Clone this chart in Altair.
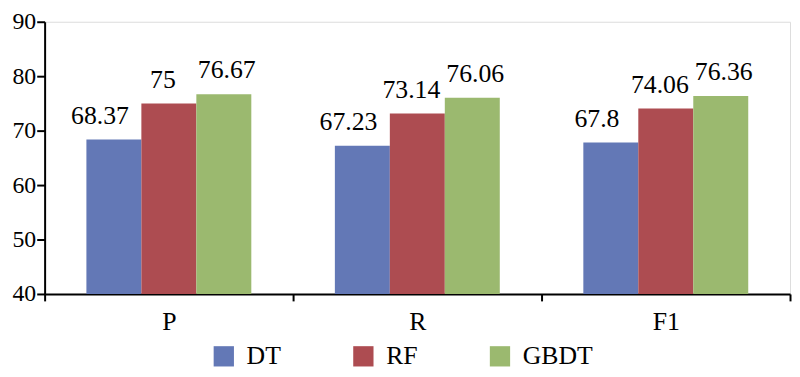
import altair as alt
import pandas as pd

categories = ["P", "R", "F1"]
models = ["DT", "RF", "GBDT"]
dt_values = [68.37, 67.23, 67.8]
rf_values = [75, 73.14, 74.06]
gbdt_values = [76.67, 76.06, 76.36]
colors = ["#6378B6", "#AD4C51", "#9BB96F"]

rows = []
for i, c in enumerate(categories):
    for m, vals in zip(models, [dt_values, rf_values, gbdt_values]):
        rows.append({"cat": c, "model": m, "value": vals[i], "label": f"{vals[i]:g}"})
df = pd.DataFrame(rows)

FONT = "'Times New Roman', 'Liberation Serif', 'DejaVu Serif', serif"
FS = 26

base = alt.Chart(df).encode(
    x=alt.X("cat:N", sort=categories, title=None,
            scale=alt.Scale(paddingInner=0, paddingOuter=0),
            axis=alt.Axis(labelAngle=0, tickBand="extent", labelFont=FONT, labelFontSize=FS,
                          labelColor="black", domainColor="black", domainWidth=2,
                          tickColor="black", tickWidth=2, tickSize=7, labelPadding=8)),
    xOffset=alt.XOffset("model:N", sort=models, scale=alt.Scale(paddingOuter=0.76, paddingInner=0)),
)

bars = base.mark_bar().encode(
    y=alt.Y("value:Q", title=None,
            scale=alt.Scale(domain=[40, 90], zero=False, nice=False, clamp=True),
            axis=alt.Axis(values=[40, 50, 60, 70, 80, 90], grid=False, labelFont=FONT,
                          labelFontSize=24, labelColor="black", domainColor="black",
                          domainWidth=2, tickColor="black", tickWidth=2, tickSize=8,
                          labelPadding=1)),
    y2=alt.datum(40),
    color=alt.Color("model:N", sort=models,
                    scale=alt.Scale(domain=models, range=colors),
                    legend=alt.Legend(title=None, orient="none", direction="horizontal",
                                      legendX=168, legendY=325, symbolType="square",
                                      symbolSize=420, symbolStrokeWidth=0,
                                      labelFont=FONT, labelFontSize=FS, labelColor="black",
                                      labelOffset=10, columnPadding=70)),
)

text_layers = []
for m, shift in zip(models, [-14, -6, 3]):
    text_layers.append(
        base.transform_filter(alt.datum.model == m)
        .mark_text(baseline="alphabetic", dy=-16, dx=shift, font=FONT, fontSize=FS, color="black")
        .encode(y=alt.Y("value:Q"), text=alt.Text("label:N"))
    )

chart = alt.layer(bars, *text_layers).properties(
    width=753, height=275, autosize="none",
    padding={"left": 37, "top": 12, "right": 2, "bottom": 82},
).configure_view(stroke=None).configure(font=FONT)

chart.save("out.html", embed_options={"renderer": "svg", "actions": False})
